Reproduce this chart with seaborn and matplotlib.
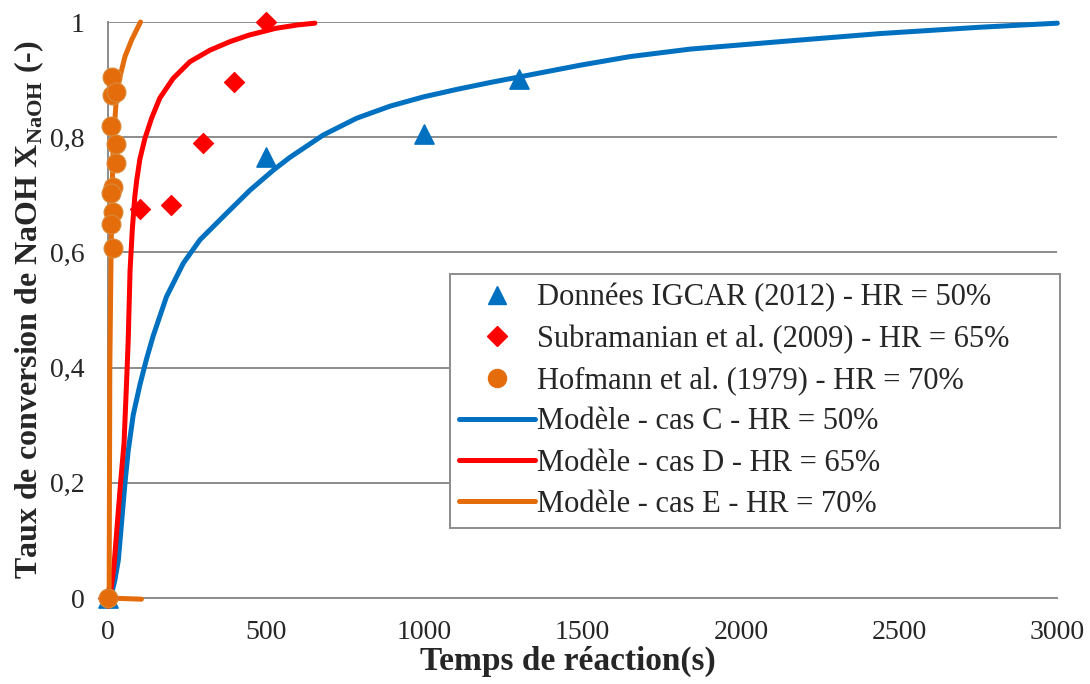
import numpy as np
import seaborn as sns
import matplotlib.pyplot as plt
from matplotlib.ticker import FuncFormatter
from matplotlib.lines import Line2D

# Donnees
igcar_t = [0, 500, 1000, 1300]
igcar_x = [0.0, 0.766, 0.806, 0.901]

subra_t = [0, 100, 200, 300, 400, 500]
subra_x = [0.0, 0.675, 0.683, 0.79, 0.896, 1.0]

hof_t = [0, 11.6, 11.6, 25, 8.4, 25, 25, 15, 8.4, 17, 8.4, 15]
hof_x = [0.0, 0.904, 0.873, 0.878, 0.819, 0.788, 0.755, 0.714, 0.704, 0.670, 0.649, 0.607]

cas_c_t = [0, 12, 22, 33, 43, 54, 64, 80, 101, 122, 143, 185, 238, 291, 375, 449, 523,
           575, 681, 786, 892, 997, 1102, 1208, 1303, 1492, 1650, 1840, 2125, 2441, 2757, 3000]
cas_c_x = [0.0, 0.008, 0.031, 0.066, 0.13, 0.2, 0.255, 0.318, 0.37, 0.415, 0.455, 0.523, 0.581,
           0.622, 0.668, 0.708, 0.743, 0.765, 0.804, 0.833, 0.854, 0.870, 0.883, 0.895, 0.905,
           0.925, 0.940, 0.953, 0.966, 0.980, 0.991, 0.998]

cas_d_t = [0, 8, 19, 29, 40, 51, 59, 64, 70, 77, 85, 91, 101, 117, 138, 164, 206, 259, 322,
           386, 444, 530, 600, 654]
cas_d_x = [0.0, 0.008, 0.054, 0.124, 0.2, 0.269, 0.375, 0.445, 0.569, 0.639, 0.697, 0.725,
           0.762, 0.798, 0.833, 0.868, 0.902, 0.931, 0.951, 0.966, 0.977, 0.989, 0.995, 0.998]

cas_e_t = [106, 0, 4, 6, 8, 10, 13, 17, 22, 27, 38, 54, 75, 103]
cas_e_x = [-0.002, 0.0, 0.02, 0.4, 0.5, 0.6, 0.7, 0.79, 0.83, 0.87, 0.905, 0.94, 0.969, 1.0]

BLUE = "#0070C0"
RED = "#FF0000"
ORANGE = "#E46C0A"
GRID = "#8C8C8C"
LW = 3.6

sns.set_style("white")
plt.rcParams['font.family'] = ['Liberation Serif', 'DejaVu Serif']
plt.rcParams['mathtext.fontset'] = 'custom'
plt.rcParams['mathtext.rm'] = 'Liberation Serif'
plt.rcParams['mathtext.bf'] = 'Liberation Serif:bold'

fig = plt.figure(figsize=(10.9, 6.84), dpi=100)
ax = fig.add_axes([0.099, 0.1257, 0.871, 0.8421])

ax.yaxis.grid(True, color=GRID, linewidth=1.4)
ax.set_axisbelow(True)

# Courbes du modele
for tt, xx, c in [(cas_c_t, cas_c_x, BLUE), (cas_d_t, cas_d_x, RED), (cas_e_t, cas_e_x, ORANGE)]:
    sns.lineplot(x=tt, y=xx, ax=ax, color=c, linewidth=LW, sort=False,
                 estimator=None, clip_on=False, zorder=3)

# Points experimentaux
sns.scatterplot(x=igcar_t, y=igcar_x, ax=ax, marker='^', s=190, color=BLUE,
                edgecolor=BLUE, clip_on=False, zorder=4)
sns.scatterplot(x=subra_t, y=subra_x, ax=ax, marker='D', s=105, color=RED,
                edgecolor=RED, clip_on=False, zorder=4)
sns.scatterplot(x=hof_t, y=hof_x, ax=ax, marker='o', s=185, color=ORANGE,
                edgecolor='#D98A3A', linewidth=0.8, clip_on=False, zorder=5)

ax.set_xlim(0, 3000)
ax.set_ylim(0, 1)
ax.set_xticks(np.arange(0, 3001, 500))
ax.set_yticks(np.arange(0, 1.01, 0.2))
ax.yaxis.set_major_formatter(FuncFormatter(
    lambda v, p: "0" if abs(v) < 1e-9 else ("1" if abs(v - 1) < 1e-9 else f"{v:.1f}".replace('.', ','))))

for s in ['top', 'right']:
    ax.spines[s].set_visible(False)
for s in ['left', 'bottom']:
    ax.spines[s].set_color(GRID)
    ax.spines[s].set_linewidth(1.4)

ax.tick_params(axis='y', direction='out', length=9, width=1.4, color=GRID, labelsize=20, pad=8)
ax.tick_params(axis='x', direction='out', length=8, width=1.4, color=GRID, labelsize=20, pad=8)

ax.set_xlabel("Temps de réaction(s)", fontsize=24, fontweight='bold')
ax.xaxis.set_label_coords(0.485, -0.083)
ax.set_ylabel(r"Taux de conversion de NaOH X$_{\mathbf{NaOH}}$ (-)", fontsize=23,
              fontweight='bold', labelpad=3)

handles = [
    Line2D([], [], marker='^', color=BLUE, linestyle='none', markersize=13),
    Line2D([], [], marker='D', color=RED, linestyle='none', markersize=10),
    Line2D([], [], marker='o', color=ORANGE, linestyle='none', markersize=13),
    Line2D([], [], color=BLUE, linewidth=LW),
    Line2D([], [], color=RED, linewidth=LW),
    Line2D([], [], color=ORANGE, linewidth=LW),
]
labels = [
    "Données IGCAR (2012) - HR = 50%",
    "Subramanian et al. (2009) - HR = 65%",
    "Hofmann et al. (1979) - HR = 70%",
    "Modèle - cas C - HR = 50%",
    "Modèle - cas D - HR = 65%",
    "Modèle - cas E - HR = 70%",
]
leg = ax.legend(handles, labels, loc='upper left', bbox_to_anchor=(0.36, 0.128, 0.643, 0.4345),
                mode='expand', fontsize=22, frameon=True, fancybox=False, framealpha=1,
                edgecolor=GRID, handlelength=2.5, handletextpad=0.05,
                labelspacing=0.4, borderpad=0.3, borderaxespad=0)
leg.get_frame().set_linewidth(1.4)

plt.savefig("out.png", dpi=100)
